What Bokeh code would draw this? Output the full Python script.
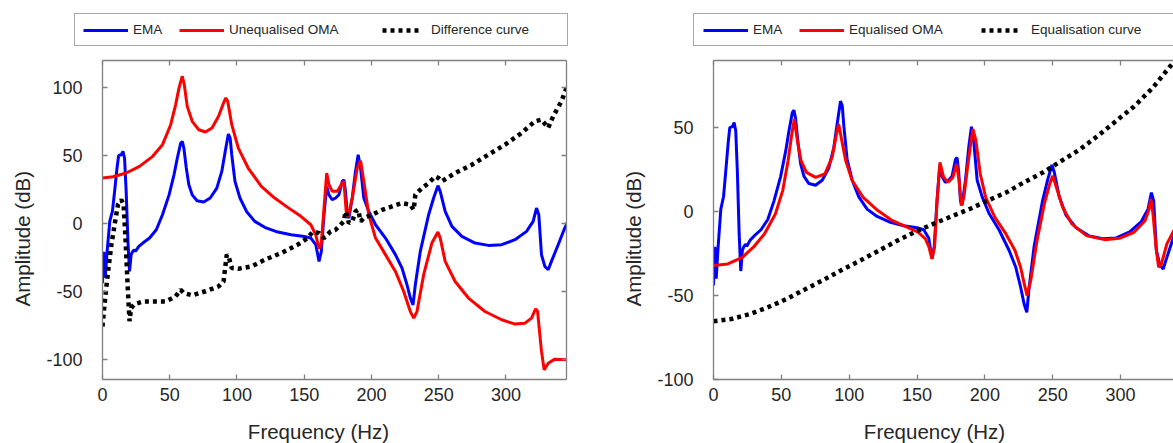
from bokeh.plotting import figure
from bokeh.models import LinearAxis, FixedTicker, Range1d, Legend, LegendItem, Title, Label
from bokeh.layouts import row, column
from bokeh.embed import file_html
from bokeh.resources import INLINE

# ---------------- data ----------------
freq_ticks = [0, 50, 100, 150, 200, 250, 300]
left_yticks = [-100, -50, 0, 50, 100]
right_yticks = [-100, -50, 0, 50]

ema_f = [0, 1, 2, 3.4, 5.4, 7.4, 9, 10.8, 12, 14, 15.2, 16.4, 17.6, 18.9, 20.1, 21.3,
         22.5, 23.8, 24.5, 27, 30, 35, 40, 44.6, 49.5, 53.2, 55.6, 58.1, 59.3, 60.5,
         62.3, 64.2, 66.7, 70.3, 75.2, 80.1, 85, 88.7, 91.7, 93.6, 94.9, 96.1, 98.5,
         102.2, 107.1, 113.2, 120.6, 130.4, 140.2, 150, 154.9, 158.6, 161, 162.7, 164.7,
         166.7, 168.4, 170.8, 173.3, 175.8, 178.3, 179.5, 180.7, 182, 183.2, 185.7, 188.1,
         190.1, 191.9, 194.3, 198, 203, 210.4, 217.8, 222.7, 226.4, 228.9, 230.9, 232.6,
         236.3, 242.5, 246.2, 249.4, 251.1, 254.8, 259.8, 267.2, 277, 286.9, 296.8, 306.7,
         315.3, 320.2, 322.7, 324.4, 326.4, 328.9, 331.4, 333.8, 338.8, 343.7, 346]
ema_db = [-44, -21, -40, -21, 1.5, 9, 23.6, 40.8, 50, 50.6, 53, 48, 23.6, -13, -35.4, -23,
          -20.6, -19.4, -20.6, -17, -14.5, -10.8, -4.7, 6.4, 21, 36, 48, 59, 60.4, 55.5,
          40.8, 28.5, 21, 16.7, 15.7, 18.7, 26, 38.3, 55.5, 65.8, 62.9, 50.6, 31,
          18.7, 8.8, 1.5, -2.9, -6.4, -8.4, -9.6, -10.8, -15.7, -28, -20.6, 6.4,
          27.3, 21, 17.4, 18.7, 21.1, 31, 32.2, 23.6, 6.4, 3.9, 18.7, 38.3,
          50.6, 40.8, 18.7, 8.8, -1, -10.8, -23, -33, -45.2, -55, -60, -45.2,
          -20.6, 6.4, 18.7, 27.8, 23.6, 8.8, -2.2, -9.6, -14.5, -16.2, -15.7, -12,
          -5.9, 1.5, 11.3, 6.4, -23.1, -31.7, -34.2, -28, -15.7, -3.4, 1.5]

oma_f = [0, 7.8, 17.6, 27.5, 37.3, 44.6, 50.7, 54.4, 56.9, 59.3, 60.8, 63, 66.7, 71.6,
         76.5, 81.4, 86.3, 90, 91.7, 93.1, 96.1, 101, 108.3, 118.1, 128, 137.7, 147.5,
         154.9, 158.6, 161, 162.7, 164.7, 166.7, 168.4, 170.8, 174.6, 178.3, 179.5, 181.2,
         182.7, 185.7, 189.4, 191.9, 194.3, 198, 203, 210.4, 217.8, 223.9, 228.9, 231.4,
         233.8, 238.8, 244.9, 249.4, 251.1, 254.8, 262.2, 272.1, 284.4, 296.8, 306.7,
         314.1, 319, 322, 323.5, 326.4, 328.4, 331.4, 336.3, 346.2]
oma_db = [33.4, 34.4, 37.1, 42, 49.4, 58, 72.7, 87.5, 99.8, 108.4, 102.2, 86.2, 75.2, 69,
          67.3, 70.3, 78.9, 88.7, 92.4, 90, 72.7, 55.5, 40.8, 27.3, 18.7, 11.8, 5.2,
          -1, -8.4, -18.7, -14.5, 11.3, 37.1, 28.5, 23.6, 23.6, 29.7, 31, 8.8,
          5.2, 18.7, 40.8, 46.2, 31, 6.4, -10.8, -23, -35.4, -50, -65, -69.8,
          -65, -37.8, -14.5, -6.4, -10.8, -28, -42.8, -55, -64.9, -71, -74.2,
          -73.5, -69.8, -62.9, -64.9, -94.3, -107.9, -103, -100, -100.5]

diff_f = [0, 1, 2.5, 4.2, 6.6, 9, 11.5, 14, 15.7, 17.2, 18.9, 20.1, 21.3, 23.8, 29.9, 37.3,
          47, 54.4, 58.1, 60.5, 66.7, 76.5, 86.3, 90, 92.4, 94.1, 96.1, 101, 110.8, 120.6,
          132.8, 145.1, 152.5, 156.1, 161, 164.7, 169.6, 173.3, 175.8, 179.5, 180.7, 182,
          183.2, 185.7, 188.1, 190.1, 191.9, 194.3, 200.5, 207.9, 215.3, 222.7, 228.9,
          231.4, 232.6, 237.5, 242.5, 247.4, 249.9, 252.3, 262.2, 274.6, 286.9, 299.3,
          311.6, 321.5, 326.4, 331.4, 335.1, 341.2, 345]
diff_db = [-76, -65, -50, -35, -15.7, -1, 13.8, 17.4, 13.8, -13.3, -50, -72, -62.4, -59.5,
           -57.5, -57.5, -57.5, -53.8, -48.9, -51.4, -53, -50, -46.4, -42.8, -23, -25.6,
           -32.9, -33.4, -31.7, -26.8, -21.9, -15.7, -10.8, -6.4, -7.1, -10.8, -5.9, -4.7,
           -2.2, 1.5, 8.8, 5.2, 0.2, 1.5, 8.8, 10, 1.5, 3.9, 6.4, 10, 12.5, 15, 13.8,
           10, 21.1, 26, 29.7, 34.6, 33.4, 31, 37.1, 43.2, 50.6, 58, 66.6, 75.2, 76.4,
           70.3, 78.9, 89.9, 99.8]

eqo_f = [0, 10.5, 21.3, 29.4, 37.5, 45.6, 51, 55, 57.7, 59.6, 61.8, 64.5, 68.5, 75.2, 82,
         87.4, 90.9, 92.2, 94.1, 97.4, 102.2, 110.3, 121.1, 131.9, 142.7, 150.8, 156.2,
         158.8, 161, 162.9, 164.8, 166.9, 169.6, 172.9, 176.4, 179.1, 181, 182.6, 184.5,
         187.2, 189.9, 191.2, 193.4, 196.6, 200.6, 207.4, 215.5, 222.2, 226.3, 229, 231.1,
         233.8, 238.4, 243.8, 247.8, 250, 252.7, 257.3, 264, 274.8, 288.3, 299.1, 309.9,
         318, 320.7, 322.3, 323.9, 326.1, 328, 330.1, 334.1, 339.5]
eqo_db = [-32.1, -31.2, -27.2, -21.2, -13.3, -1.4, 12.5, 30.4, 46.2, 55.2, 42.3, 30.4, 23.4,
          20.4, 22.4, 32.3, 47.2, 52.2, 44.2, 30.4, 18.5, 8.5, 0.6, -5.4, -9.3, -12.3,
          -16.3, -21.2, -28.2, -21.2, 6.5, 29.4, 20.4, 17.5, 20.4, 28.4, 18.5, 3.6, 8.5,
          26.4, 42.3, 49.2, 42.3, 22.4, 8.5, -3.4, -13.3, -23.2, -33.1, -43.1, -50,
          -41.1, -17.3, 4.6, 16.5, 21.4, 14.5, 2.6, -7.3, -14.3, -16.7, -15.9, -12.3,
          -5.4, 0.6, 7.5, -1.4, -21.2, -33.1, -31.2, -19.2, -11]

eqc_f = [0, 13, 27, 40, 54, 67, 81, 94, 108, 121, 135, 148, 162, 175, 189, 202, 216, 229,
         243, 256, 270, 283, 296, 310, 324, 336, 341]
eqc_db = [-65.3, -64, -61, -57, -52, -46.5, -40.7, -35, -29.2, -23.6, -17.5, -12.3, -7.3,
          -3, 1.6, 6.5, 11.5, 17.5, 23.4, 30, 37, 45, 53.5, 62.6, 74, 86, 91]

for a, b in [(ema_f, ema_db), (oma_f, oma_db), (diff_f, diff_db), (eqo_f, eqo_db), (eqc_f, eqc_db)]:
    assert len(a) == len(b), (len(a), len(b))

# ---------------- styling / layout constants ----------------
FONT = "Liberation Sans"
TXT = "#262626"
AXC = "#808080"
W = 1173
TOP_H = 50          # legend strip
MAIN_H = 358        # plots (frame 60..379 on the page)
BOT_H = 443 - TOP_H - MAIN_H   # x-title strip
LEFT_W = 600
RIGHT_W = W - LEFT_W
TITLE_SIZE = "20.5px"
BLUE, RED = "#0000ff", "#ff0000"
LW = 3
BLUE_S = dict(line_color=BLUE, line_width=LW)
RED_S = dict(line_color=RED, line_width=LW)
DOT = dict(line_color="black", line_width=4.5, line_dash="4 4", line_cap="butt")


def bare_figure(width, height, **kw):
    f = figure(width=width, height=height, output_backend="svg", toolbar_location=None,
               title=None, x_axis_location=None, y_axis_location=None,
               min_border=0, min_border_left=0, min_border_right=0,
               min_border_top=0, min_border_bottom=0, **kw)
    f.grid.visible = False
    f.outline_line_color = None
    return f


def style_axis(ax, ticks, labels=True):
    ax.axis_line_color = AXC
    ax.axis_line_width = 1.3
    ax.major_tick_in = 5
    ax.major_tick_out = 0
    ax.major_tick_line_color = AXC
    ax.major_tick_line_width = 1.3
    ax.minor_tick_line_color = None
    ax.major_label_text_font = FONT
    ax.major_label_text_color = TXT
    ax.major_label_text_font_size = "18px"
    if labels:
        ax.major_label_overrides = {t: str(t) for t in ticks}
    else:
        ax.major_label_overrides = {t: "" for t in ticks}
        ax.major_label_standoff = 0


def make_panel(width, bl, br, x_end, y_rng, yticks, right_axis):
    p = figure(width=width, height=MAIN_H, x_range=Range1d(0, x_end), y_range=Range1d(*y_rng),
               output_backend="svg", toolbar_location=None, title=None,
               x_axis_location=None, y_axis_location=None,
               min_border_left=bl, min_border_right=br,
               min_border_top=10, min_border_bottom=MAIN_H - 10 - 319)
    p.grid.visible = False
    p.outline_line_color = None

    xb = LinearAxis(ticker=FixedTicker(ticks=freq_ticks))
    style_axis(xb, freq_ticks)
    xb.major_label_standoff = 8
    p.add_layout(xb, "below")

    xt = LinearAxis(ticker=FixedTicker(ticks=freq_ticks))
    style_axis(xt, freq_ticks, labels=False)
    p.add_layout(xt, "above")

    yl = LinearAxis(ticker=FixedTicker(ticks=yticks))
    style_axis(yl, yticks)
    yl.major_label_standoff = 20
    p.add_layout(yl, "left")
    p.add_layout(Title(text="Amplitude (dB)", align="left", offset=73,
                       vertical_align="middle", standoff=18,
                       text_font=FONT, text_font_size=TITLE_SIZE, text_font_style="normal",
                       text_color=TXT), "left")

    if right_axis:
        yr = LinearAxis(ticker=FixedTicker(ticks=yticks))
        style_axis(yr, yticks, labels=False)
        p.add_layout(yr, "right")
    return p


# ---------------- panels ----------------
left = make_panel(LEFT_W, 98, LEFT_W - 566, 345, (-115, 120), left_yticks, True)
left.line(ema_f, ema_db, **BLUE_S)
left.line(oma_f, oma_db, **RED_S)
left.line(diff_f, diff_db, **DOT)

right = make_panel(RIGHT_W, 713 - LEFT_W, 0, 339, (-100, 90), right_yticks, False)
right.line(ema_f, ema_db, **BLUE_S)
right.line(eqo_f, eqo_db, **RED_S)
right.line(eqc_f, eqc_db, **DOT)

# ---------------- legend strip (top) ----------------
top = bare_figure(W, TOP_H, x_range=Range1d(1000, 1001), y_range=Range1d(1000, 1001))
# the sample renderers carry the series but lie outside this strip's ranges
s_ema = top.line(ema_f, ema_db, **BLUE_S)
s_oma = top.line(oma_f, oma_db, **RED_S)
s_diff = top.line(diff_f, diff_db, **DOT)
s_eqo = top.line(eqo_f, eqo_db, **RED_S)
s_eqc = top.line(eqc_f, eqc_db, **DOT)
ghost = top.line(ema_f, ema_db, line_alpha=0)


def legend_box(x0, w):
    top.add_layout(Legend(items=[LegendItem(label=" ", renderers=[ghost])],
                          location=(x0, TOP_H - 46),
                          padding=0, margin=0, spacing=0, glyph_width=w, glyph_height=31,
                          label_width=0, label_height=0, label_standoff=0,
                          label_text_font_size="1px",
                          border_line_color="#505050", border_line_width=1.2,
                          background_fill_alpha=0), "center")


def legend_entry(r, label, x0, gw, so):
    top.add_layout(Legend(items=[LegendItem(label=label, renderers=[r])],
                          location=(x0, TOP_H - 37.5),
                          padding=0, margin=0, spacing=0, glyph_width=gw, glyph_height=16,
                          label_height=16, label_standoff=so, label_width=0,
                          label_text_font=FONT, label_text_font_size="13.5px",
                          label_text_color=TXT, label_text_baseline="middle",
                          border_line_color=None, background_fill_alpha=0), "center")


legend_box(74, 492)
legend_entry(s_ema, "EMA", 83, 45, 5)
legend_entry(s_oma, "Unequalised OMA", 179, 45, 5)
legend_entry(s_diff, "Difference curve", 382, 40, 9)
legend_box(693, 500)
legend_entry(s_ema, "EMA", 703, 45, 5)
legend_entry(s_eqo, "Equalised OMA", 799, 45, 5)
legend_entry(s_eqc, "Equalisation curve", 981, 40, 10)

# ---------------- x-title strip (bottom) ----------------
bot = bare_figure(W, BOT_H, x_range=Range1d(0, 1), y_range=Range1d(0, 1))
for cx in (318, 934):
    bot.add_layout(Label(x=cx, y=443 - 431, x_units="screen", y_units="screen",
                         text="Frequency (Hz)", text_align="center", text_baseline="middle",
                         text_font=FONT, text_font_size=TITLE_SIZE, text_color=TXT))

layout = column(top, row(left, right, spacing=0), bot, spacing=0)
open("out.html", "w").write(file_html(layout, INLINE))
